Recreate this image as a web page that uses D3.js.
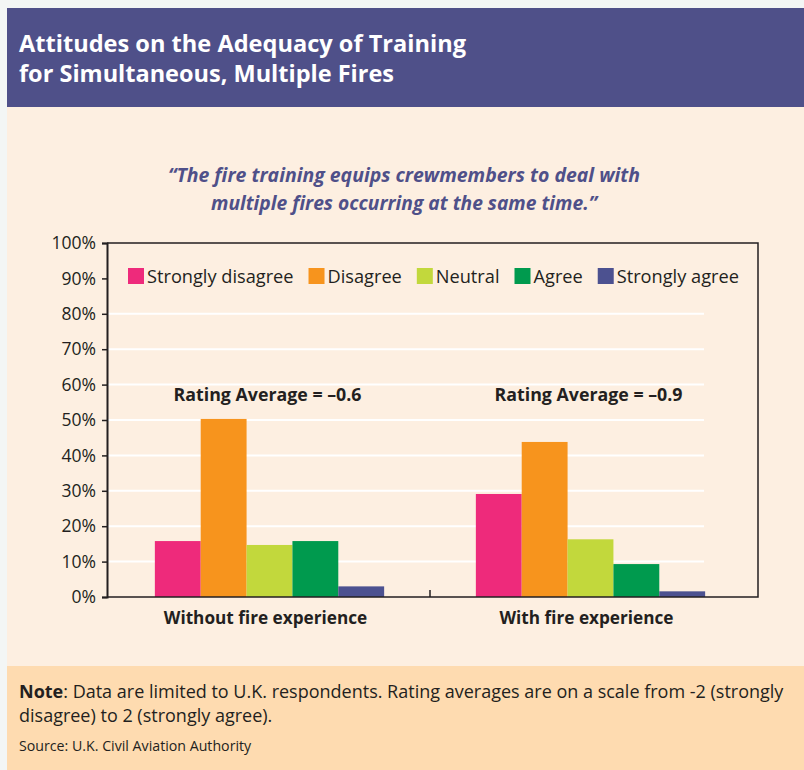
<!DOCTYPE html>
<html>
<head>
<meta charset="utf-8">
<script src="https://cdn.jsdelivr.net/npm/d3@7"></script>
<style>
  body { margin: 0; background: #f3f6f5; }
  svg { display: block; font-family: "Open Sans", sans-serif; }
</style>
</head>
<body>
<svg></svg>
<script>
let width = 804, height = 770;

// data
let groups = ["Without fire experience", "With fire experience"];
let series = ["Strongly disagree", "Disagree", "Neutral", "Agree", "Strongly agree"];
let withoutFire = [15.8, 50.3, 14.7, 15.8, 3.0];
let withFire = [29.1, 43.8, 16.3, 9.3, 1.6];
let ratings = ["Rating Average = \u20130.6", "Rating Average = \u20130.9"];
let yTicks = [0, 10, 20, 30, 40, 50, 60, 70, 80, 90, 100];
let colors = ["#ee2a7b", "#f7941d", "#c2d83c", "#009a4e", "#4c5190"];

let values = [withoutFire, withFire];

let svg = d3.select("svg")
  .attr("width", width)
  .attr("height", height);

// panels
svg.append("rect").attr("x", 7).attr("y", 8).attr("width", width - 7).attr("height", 99).attr("fill", "#4f5089");
svg.append("rect").attr("x", 7).attr("y", 107).attr("width", width - 7).attr("height", 559).attr("fill", "#fdefe1");
svg.append("rect").attr("x", 7).attr("y", 666).attr("width", width - 7).attr("height", 104).attr("fill", "#fedbb0");

// title
let title = svg.append("g").attr("fill", "#fff").attr("font-weight", "bold").attr("font-size", 24);
title.append("text").attr("x", 19).attr("y", 52).attr("textLength", 447).attr("lengthAdjust", "spacingAndGlyphs")
  .text("Attitudes on the Adequacy of Training");
title.append("text").attr("x", 19).attr("y", 82).attr("textLength", 375).attr("lengthAdjust", "spacingAndGlyphs")
  .text("for Simultaneous, Multiple Fires");

// quote
let quote = svg.append("g").attr("fill", "#4f5089").attr("font-weight", "bold").attr("font-style", "italic")
  .attr("font-size", 20).attr("text-anchor", "middle");
quote.append("text").attr("x", 404).attr("y", 182).attr("textLength", 472).attr("lengthAdjust", "spacingAndGlyphs")
  .text("\u201CThe fire training equips crewmembers to deal with");
quote.append("text").attr("x", 404).attr("y", 210).attr("textLength", 386).attr("lengthAdjust", "spacingAndGlyphs")
  .text("multiple fires occurring at the same time.\u201D");

// scales
let x0 = d3.scaleBand().domain(groups).range([109, 751]);
let x1 = d3.scaleBand().domain(series).range([0, x0.bandwidth()]).paddingOuter(1);
let y = d3.scaleLinear().domain([0, 100]).range([597, 243]);
let color = d3.scaleOrdinal().domain(series).range(colors);

// gridlines
svg.append("g").selectAll("line")
  .data(yTicks.filter(d => d > 0 && d <= 80))
  .join("line")
  .attr("x1", 108).attr("x2", 704)
  .attr("y1", d => y(d)).attr("y2", d => y(d))
  .attr("stroke", "#fff").attr("stroke-width", 2);

// bars
let gGroups = svg.append("g").selectAll("g")
  .data(groups)
  .join("g")
  .attr("transform", d => `translate(${x0(d)},0)`);

gGroups.selectAll("rect")
  .data((g, i) => series.map((s, j) => ({ s: s, v: values[i][j] })))
  .join("rect")
  .attr("x", d => x1(d.s))
  .attr("width", x1.bandwidth())
  .attr("y", d => y(d.v))
  .attr("height", d => y(0) - y(d.v))
  .attr("fill", d => color(d.s));

// rating averages
svg.append("g").selectAll("text")
  .data(groups)
  .join("text")
  .attr("x", (d, i) => x0(d) + x0.bandwidth() / 2 - 2)
  .attr("y", 401)
  .attr("text-anchor", "middle")
  .attr("font-weight", "bold")
  .attr("font-size", 17.8)
  .attr("fill", "#231f20")
  .text((d, i) => ratings[i]);

// frame
let frame = svg.append("g").attr("stroke", "#231f20").attr("stroke-width", 1.5).attr("fill", "none");
frame.append("polyline").attr("points", `107,${y(100)} 758,${y(100)} 758,${y(0)} 107,${y(0)}`);
frame.append("line").attr("x1", x0(groups[1])).attr("x2", x0(groups[1])).attr("y1", y(0)).attr("y2", y(0) - 7);

// y axis
let yAxis = svg.append("g")
  .attr("transform", "translate(107,0)")
  .call(d3.axisLeft(y).tickValues(yTicks).tickSize(5).tickPadding(6).tickFormat(d => d + "%"));
yAxis.select(".domain").attr("stroke", "#231f20").attr("stroke-width", 2);
yAxis.selectAll(".tick line").attr("stroke", "#231f20").attr("stroke-width", 1.5);
yAxis.selectAll(".tick text").attr("font-size", 17.5).attr("fill", "#231f20").attr("font-family", "Open Sans, sans-serif");

// x labels
svg.append("g").selectAll("text")
  .data(groups)
  .join("text")
  .attr("x", d => x0(d) + x0.bandwidth() / 2 - 4)
  .attr("y", 624)
  .attr("text-anchor", "middle")
  .attr("font-weight", "bold")
  .attr("font-size", 17.2)
  .attr("fill", "#231f20")
  .text(d => d);

// legend
let legend = svg.append("g").attr("font-size", 18.2).attr("fill", "#231f20");
let lx = 128;
series.forEach((s, i) => {
  legend.append("rect").attr("x", lx).attr("y", 268).attr("width", 16).attr("height", 16).attr("fill", color(s));
  let t = legend.append("text").attr("x", lx + 19).attr("y", 283).text(s);
  lx += 19 + t.node().getComputedTextLength() + 15;
});

// note
let note = svg.append("g").attr("fill", "#231f20").attr("font-size", 18);
let n1 = note.append("text").attr("x", 19).attr("y", 698);
n1.append("tspan").attr("font-weight", "bold").text("Note");
n1.append("tspan").text(": Data are limited to U.K. respondents. Rating averages are on a scale from -2 (strongly");
note.append("text").attr("x", 19).attr("y", 722).text("disagree) to 2 (strongly agree).");
note.append("text").attr("x", 19).attr("y", 751).attr("font-size", 14.2).text("Source: U.K. Civil Aviation Authority");
</script>
</body>
</html>
